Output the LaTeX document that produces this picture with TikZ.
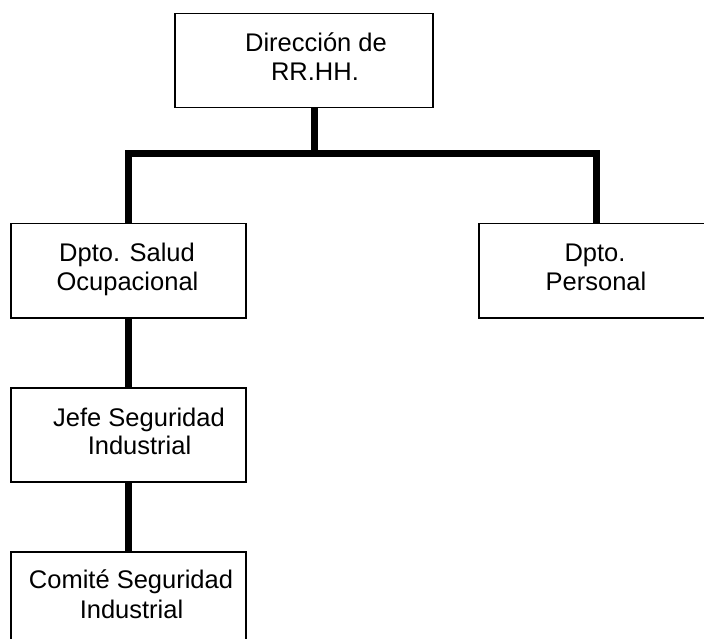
\documentclass[tikz,border=0pt]{standalone}
\usepackage{fontspec}
\setmainfont{Liberation Sans}
\begin{document}
\begin{tikzpicture}[x=1pt,y=-1pt,
  box/.style={draw, line width=1.5pt, inner sep=0pt, anchor=north west},
  lbl/.style={font=\fontsize{25.5}{29}\selectfont, inner sep=0pt, anchor=base},
  link/.style={line width=7pt, line join=miter}]
\useasboundingbox (0,0) rectangle (704,639);
\clip (0,0) rectangle (704,639);

% boxes of the chart
\node[box, minimum width=258pt, minimum height=94pt] (dir)  at (174,13)  {};
\node[box, minimum width=235pt, minimum height=94pt] (sal)  at (10,223)  {};
\node[box, minimum width=250pt, minimum height=94pt] (per)  at (478,223) {};
\node[box, minimum width=235pt, minimum height=94pt] (jefe) at (10,387)  {};
\node[box, minimum width=235pt, minimum height=110pt] (com) at (10,551)  {};

% branch points of the tree
\coordinate (hub)   at (314,153.5);
\coordinate (lturn) at (128,153.5);
\coordinate (rturn) at (596,153.5);

% connectors
\draw[link] (dir.south -| hub) -- (hub);
\draw[link] (sal.north -| lturn) -- (lturn) -- (rturn) -- (per.north -| rturn);
\draw[link] (sal.south -| lturn) -- (jefe.north -| lturn);
\draw[link] (jefe.south -| lturn) -- (com.north -| lturn);

% labels
\node[lbl] (dir1)  at (316,51.7)  {Dirección de};
\node[lbl] (dir2)  at (315,80.7)  {RR.HH.};
\node[lbl] (sal1)  at (127,261.7) {Dpto. Salud};
\node[lbl] (sal2)  at (127.5,290.5) {Ocupacional};
\node[lbl] (per1)  at (595,261.7) {Dpto.};
\node[lbl] (per2)  at (596,290.5) {Personal};
\node[lbl] (jefe1) at (139,426.5) {Jefe Seguridad};
\node[lbl] (jefe2) at (139.5,454) {Industrial};
\node[lbl] (com1)  at (131,588)   {Comité Seguridad};
\node[lbl] (com2)  at (131.5,618) {Industrial};
\end{tikzpicture}
\end{document}
